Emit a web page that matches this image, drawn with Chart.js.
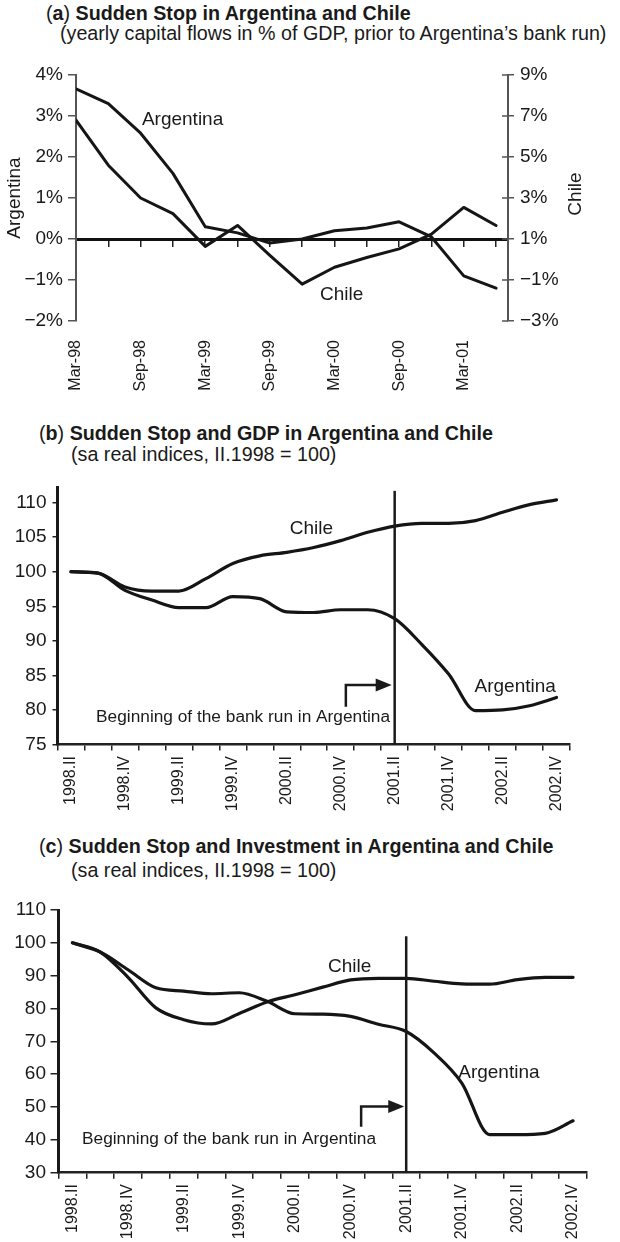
<!DOCTYPE html>
<html><head><meta charset="utf-8">
<script src="https://cdn.jsdelivr.net/npm/chart.js@4.4.1/dist/chart.umd.min.js"></script>
<style>
html,body{margin:0;padding:0;background:#fff;}
body{width:620px;height:1242px;position:relative;overflow:hidden;font-family:'Liberation Sans',Arial,sans-serif;color:#1a1a1a;}
.t{position:absolute;white-space:nowrap;font-size:19.7px;line-height:19.7px;}
.t b{font-weight:bold;}
canvas{position:absolute;left:0;}
</style></head><body>
<div class="t" style="left:46px;top:4.3px">(<b>a</b>) <b>Sudden Stop in Argentina and Chile</b></div>
<div class="t" style="left:60px;top:24.2px">(yearly capital flows in % of GDP, prior to Argentina’s bank run)</div>
<div class="t" style="left:39px;top:423.8px">(<b>b</b>) <b>Sudden Stop and GDP in Argentina and Chile</b></div>
<div class="t" style="left:71px;top:445.2px">(sa real indices, II.1998 = 100)</div>
<div class="t" style="left:39px;top:837.3px">(<b>c</b>) <b>Sudden Stop and Investment in Argentina and Chile</b></div>
<div class="t" style="left:71px;top:860.9px">(sa real indices, II.1998 = 100)</div>
<canvas id="ca" width="620" height="350" style="top:50px"></canvas>
<canvas id="cb" width="620" height="345" style="top:470px"></canvas>
<canvas id="cc" width="620" height="352" style="top:890px"></canvas>
<script>
// ---------- data: panel (a) ----------
const aQuarters = ['Mar-98','Jun-98','Sep-98','Dec-98','Mar-99','Jun-99','Sep-99','Dec-99','Mar-00','Jun-00','Sep-00','Dec-00','Mar-01','Jun-01'];
const aTickLabels = ['Mar-98','Sep-98','Mar-99','Sep-99','Mar-00','Sep-00','Mar-01'];
const aArgentina = [3.66, 3.30, 2.58, 1.60, 0.30, 0.15, -0.10, 0.00, 0.20, 0.27, 0.42, 0.05, -0.90, -1.20];
const aChile = [6.80, 4.60, 3.00, 2.24, 0.64, 1.66, 0.20, -1.20, -0.38, 0.10, 0.52, 1.24, 2.54, 1.66];
const aLeftTicks = [-2, -1, 0, 1, 2, 3, 4];
const aRightTicks = [-3, -1, 1, 3, 5, 7, 9];

// ---------- data: panels (b) and (c) ----------
const qLabels = ['1998.II','1998.III','1998.IV','1999.I','1999.II','1999.III','1999.IV','2000.I','2000.II','2000.III','2000.IV','2001.I','2001.II','2001.III','2001.IV','2002.I','2002.II','2002.III','2002.IV'];
const bChile = [100.0, 99.8, 97.8, 97.2, 97.2, 99.0, 101.2, 102.3, 102.8, 103.5, 104.5, 105.7, 106.6, 107.0, 107.0, 107.4, 108.6, 109.7, 110.4];
const bArgentina = [100.0, 99.8, 97.3, 95.9, 94.8, 94.8, 96.4, 96.1, 94.2, 94.1, 94.5, 94.5, 93.2, 89.5, 85.2, 79.9, 80.0, 80.6, 81.8];
const bTicks = [75, 80, 85, 90, 95, 100, 105, 110];
const cChile = [100.0, 97.2, 89.5, 80.2, 76.6, 75.3, 78.5, 82.0, 84.2, 86.5, 88.7, 89.2, 89.2, 88.3, 87.5, 87.4, 88.8, 89.5, 89.5];
const cArgentina = [100.0, 97.2, 91.8, 86.3, 85.3, 84.5, 84.8, 82.2, 78.4, 78.3, 77.6, 75.2, 73.0, 66.5, 57.3, 41.6, 41.6, 42.0, 45.8];
const cTicks = [30, 40, 50, 60, 70, 80, 90, 100, 110];
const bankRun = '2001.II';

const FONT = "'Liberation Sans', Arial, sans-serif";
const INK = '#1a1a1a';
Chart.defaults.font.family = FONT;
Chart.defaults.color = INK;
Chart.defaults.animation = false;
Chart.defaults.responsive = false;
Chart.defaults.devicePixelRatio = 1;
Chart.defaults.plugins.legend.display = false;
Chart.defaults.plugins.tooltip.enabled = false;

const pct = v => (v < 0 ? '\u2212' + Math.abs(v) : String(v)) + '%';
const setTicks = arr => s => { s.ticks = arr.map(v => ({ value: v })); };

const marks = {
  id: 'marks',
  afterDatasetsDraw(chart, args, o) {
    const ctx = chart.ctx;
    const xs = chart.scales[o.xAxis];
    const ys = chart.scales[o.yAxis];
    ctx.save();
    (o.vlines || []).forEach(v => {
      const px = xs.getPixelForValue(v.x);
      ctx.beginPath(); ctx.strokeStyle = v.color; ctx.lineWidth = v.width;
      ctx.moveTo(px, ys.getPixelForValue(v.y0)); ctx.lineTo(px, ys.getPixelForValue(v.y1)); ctx.stroke();
    });
    (o.arrows || []).forEach(a => {
      const x0 = xs.getPixelForValue(a.x0), x1 = xs.getPixelForValue(a.x1);
      const y0 = ys.getPixelForValue(a.y0), y1 = ys.getPixelForValue(a.y1);
      ctx.beginPath(); ctx.strokeStyle = a.color; ctx.lineWidth = a.width; ctx.lineJoin = 'miter'; ctx.lineCap = 'butt';
      ctx.moveTo(x0, y0); ctx.lineTo(x0, y1); ctx.lineTo(x1 - a.head + 1, y1); ctx.stroke();
      ctx.beginPath(); ctx.fillStyle = a.color;
      ctx.moveTo(x1, y1); ctx.lineTo(x1 - a.head, y1 - a.half); ctx.lineTo(x1 - a.head, y1 + a.half); ctx.closePath(); ctx.fill();
    });
    (o.texts || []).forEach(t => {
      const s = chart.scales[t.yAxis || o.yAxis];
      ctx.font = t.size + 'px ' + FONT; ctx.fillStyle = INK; ctx.textAlign = 'left'; ctx.textBaseline = 'alphabetic';
      ctx.fillText(t.text, xs.getPixelForValue(t.x), s.getPixelForValue(t.y));
    });
    if (o.innerTicks) {
      const s = chart.scales[o.innerTicks.axis];
      ctx.beginPath(); ctx.strokeStyle = o.innerTicks.color; ctx.lineWidth = o.innerTicks.width;
      s.ticks.forEach(t => { const py = s.getPixelForValue(t.value); ctx.moveTo(s.left, py); ctx.lineTo(s.left - o.innerTicks.len, py); });
      ctx.stroke();
    }
    if (o.sideTitle) {
      const s = chart.scales[o.sideTitle.axis];
      ctx.font = o.sideTitle.size + 'px ' + FONT; ctx.fillStyle = INK; ctx.textAlign = 'center'; ctx.textBaseline = 'middle';
      ctx.translate(s.left + o.sideTitle.dx, (s.top + s.bottom) / 2 + o.sideTitle.dy);
      ctx.rotate(-Math.PI / 2);
      ctx.fillText(o.sideTitle.text, 0, 0);
    }
    ctx.restore();
  }
};

const lineDs = (data, extra) => Object.assign({
  data, borderColor: '#151515', borderWidth: 3.2, pointRadius: 0, fill: false,
  borderJoinStyle: 'round', borderCapStyle: 'round'
}, extra);

// ---------- chart (a) ----------
new Chart(document.getElementById('ca'), {
  type: 'line',
  data: {
    datasets: [
      lineDs(aArgentina.map((v, i) => ({ x: i, y: v })), { xAxisID: 'x', yAxisID: 'yL', tension: 0, borderWidth: 3 }),
      lineDs(aChile.map((v, i) => ({ x: i, y: v })), { xAxisID: 'x', yAxisID: 'yR', tension: 0, borderWidth: 3 })
    ]
  },
  options: {
    layout: { padding: { top: 25, left: 0, right: 0, bottom: 0 } },
    scales: {
      x: {
        type: 'linear', min: 0, max: 13.37, position: { yL: 0 },
        afterBuildTicks: s => { s.ticks = aQuarters.map((q, i) => ({ value: i })); },
        ticks: { display: false },
        grid: { drawOnChartArea: false, drawTicks: true, tickLength: 6, color: '#222', lineWidth: 1.5 },
        border: { display: true, color: '#111', width: 3 }
      },
      xl: {
        type: 'linear', min: 0, max: 13.37, position: 'bottom',
        afterBuildTicks: s => { s.ticks = aTickLabels.map(l => ({ value: aQuarters.indexOf(l) })); },
        ticks: { autoSkip: false, maxRotation: 90, minRotation: 90, padding: 19, font: { size: 16 },
                 callback: (v, i) => aTickLabels[i] },
        grid: { display: false, drawTicks: false },
        border: { display: false },
        afterFit: s => { s.height = 79; }
      },
      yL: {
        type: 'linear', position: 'left', min: -2, max: 4,
        afterBuildTicks: setTicks(aLeftTicks),
        ticks: { padding: 5, font: { size: 19 }, callback: v => pct(v) },
        grid: { drawOnChartArea: false, tickLength: 8, color: '#555', lineWidth: 1.5 },
        border: { color: '#555', width: 2 },
        title: { display: true, text: 'Argentina', font: { size: 19 }, color: INK, padding: { top: 3.6, bottom: 0 } },
        afterFit: s => { s.width = 76; }
      },
      yR: {
        type: 'linear', position: 'right', min: -3, max: 9,
        afterBuildTicks: setTicks(aRightTicks),
        ticks: { padding: 6, font: { size: 19 }, callback: v => pct(v) },
        grid: { drawOnChartArea: false, tickLength: 6, color: '#555', lineWidth: 1.5 },
        border: { color: '#555', width: 2 },
        afterFit: s => { s.width = 112; }
      }
    },
    plugins: {
      marks: {
        xAxis: 'x', yAxis: 'yL',
        texts: [
          { text: 'Argentina', x: 2.04, y: 2.79, size: 19 },
          { text: 'Chile', x: 7.55, y: -1.48, size: 19 }
        ],
        innerTicks: { axis: 'yR', len: 6, color: '#555', width: 1.5 },
        sideTitle: { axis: 'yR', text: 'Chile', size: 19, dx: 68, dy: -4 }
      }
    }
  },
  plugins: [marks]
});

// ---------- charts (b) and (c) ----------
function panel(id, chile, arg, o) {
  new Chart(document.getElementById(id), {
    type: 'line',
    data: {
      labels: qLabels,
      datasets: [
        lineDs(chile, { cubicInterpolationMode: 'monotone', tension: 0.4 }),
        lineDs(arg, { cubicInterpolationMode: 'monotone', tension: 0.4 })
      ]
    },
    options: {
      layout: { padding: { top: o.top, left: 0, right: o.right, bottom: 0 } },
      scales: {
        x: {
          type: 'category', offset: true,
          ticks: { autoSkip: false, maxRotation: 90, minRotation: 90, padding: o.xPad, font: { size: 16 },
                   callback: (v, i) => (i % 2 === 0 ? qLabels[i] : '') },
          grid: { offset: true, drawOnChartArea: false, tickLength: 6, color: '#222', lineWidth: 1.5 },
          border: { color: '#222', width: 2.5 },
          afterFit: s => { s.height = o.xHeight; }
        },
        y: {
          type: 'linear', min: o.min, max: o.max,
          afterBuildTicks: setTicks(o.ticks),
          ticks: { padding: o.yPad, font: { size: 19 } },
          grid: { drawOnChartArea: false, tickLength: o.tickLen, color: '#222', lineWidth: 1.5 },
          border: { color: '#1a1a1a', width: 3 },
          afterFit: s => { s.width = o.yWidth; }
        }
      },
      plugins: {
        marks: {
          xAxis: 'x', yAxis: 'y',
          vlines: [{ x: qLabels.indexOf(bankRun), y0: o.min, y1: o.vTop, color: '#1a1a1a', width: 2.5 }],
          arrows: [Object.assign({ color: '#1a1a1a', width: 2.5, head: 16, half: 6.5 }, o.arrow)],
          texts: o.texts
        }
      }
    },
    plugins: [marks]
  });
}

panel('cb', bChile, bArgentina, {
  top: 13, right: 50, min: 75, max: 112.2, ticks: bTicks, yWidth: 57.5, yPad: 6, tickLen: 5,
  xHeight: 70.5, xPad: 5.5, vTop: 111.7,
  arrow: { x0: 10.19, y0: 80.48, y1: 83.6, x1: 11.89 },
  texts: [
    { text: 'Chile', x: 8.11, y: 105.5, size: 19 },
    { text: 'Argentina', x: 14.96, y: 82.54, size: 19 },
    { text: 'Beginning of the bank run in Argentina', x: 0.93, y: 78.2, size: 17.3 }
  ]
});

panel('cc', cChile, cArgentina, {
  top: 20, right: 33, min: 30, max: 110, ticks: cTicks, yWidth: 58.5, yPad: 4.5, tickLen: 8,
  xHeight: 69.3, xPad: 5.3, vTop: 102,
  arrow: { x0: 10.38, y0: 44.0, y1: 50.16, x1: 11.93 },
  texts: [
    { text: 'Chile', x: 9.19, y: 91.27, size: 19 },
    { text: 'Argentina', x: 13.87, y: 58.99, size: 19 },
    { text: 'Beginning of the bank run in Argentina', x: 0.345, y: 38.74, size: 17.3 }
  ]
});
</script>
</body></html>
